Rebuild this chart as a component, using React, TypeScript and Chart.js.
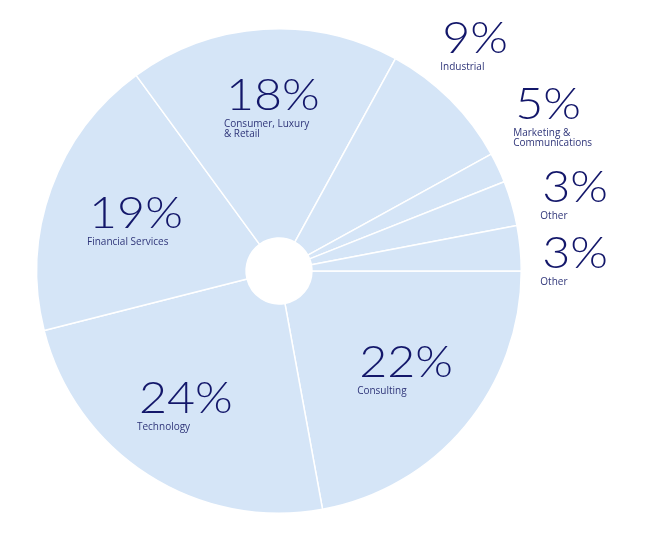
import React, { useEffect, useRef } from "react";
import { Chart, registerables } from "chart.js";

Chart.register(...registerables);

const categories = [
  "Consulting",
  "Technology",
  "Financial Services",
  "Consumer, Luxury\n& Retail",
  "Industrial",
  "Marketing &\nCommunications",
  "Other",
  "Other",
];
// slice sizes (share of the circle, %)
const sliceValues = [22.1, 23.9, 18.9, 18, 9, 2, 3, 3];
// percentages printed in the picture
const pctLabels = ["22%", "24%", "19%", "18%", "9%", "5%", "3%", "3%"];
// label anchor (left edge, baseline of the big number) relative to centre, in units of radius
const labelAnchors: [number, number][] = [
  [0.335, 0.438],
  [-0.574, 0.587],
  [-0.78, -0.178],
  [-0.215, -0.665],
  [0.678, -0.9],
  [0.979, -0.628],
  [1.091, -0.285],
  [1.091, -0.012],
];

const labelPlugin = {
  id: "sliceLabels",
  afterDatasetsDraw(chart: any) {
    const meta = chart.getDatasetMeta(0);
    const arc = meta.data[0];
    if (!arc) return;
    const cx = arc.x;
    const cy = arc.y;
    const R = arc.outerRadius;
    const ctx = chart.ctx;
    ctx.save();
    ctx.textAlign = "left";
    categories.forEach((cat, i) => {
      const [fx, fy] = labelAnchors[i];
      const x = cx + fx * R;
      const y = cy + fy * R;
      ctx.save();
      ctx.translate(x - 1, y);
      ctx.scale(1.1, 1);
      ctx.fillStyle = "#13176a";
      ctx.textBaseline = "alphabetic";
      ctx.font = "300 44px Lato";
      ctx.fillText(pctLabels[i], 0, 0);
      ctx.restore();
      ctx.fillStyle = "#2f3579";
      ctx.font = "400 10px 'Open Sans'";
      ctx.textBaseline = "middle";
      cat.split("\n").forEach((line, j) => {
        ctx.fillText(line, x - 3, y + 14 + j * 10);
      });
    });
    ctx.restore();
  },
};

export default function App() {
  const ref = useRef<HTMLCanvasElement>(null);
  useEffect(() => {
    if (!ref.current) return;
    const chart = new Chart(ref.current, {
      type: "doughnut",
      data: {
        labels: categories,
        datasets: [
          {
            data: sliceValues,
            backgroundColor: "#d5e5f7",
            borderColor: "#ffffff",
            borderWidth: 1.5,
            hoverOffset: 0,
          },
        ],
      },
      options: {
        responsive: false,
        animation: false,
        rotation: 90,
        cutout: "13.6%",
        layout: { padding: { left: 36, right: 124, top: 28, bottom: 27 } },
        plugins: {
          legend: { display: false },
          tooltip: { enabled: false },
        },
      },
      plugins: [labelPlugin],
    });
    return () => chart.destroy();
  }, []);
  return (
    <div style={{ position: "fixed", left: 0, top: 0, width: 646, height: 541, background: "#fff" }}>
      <canvas ref={ref} width={646} height={541} style={{ width: 646, height: 541 }} />
    </div>
  );
}
